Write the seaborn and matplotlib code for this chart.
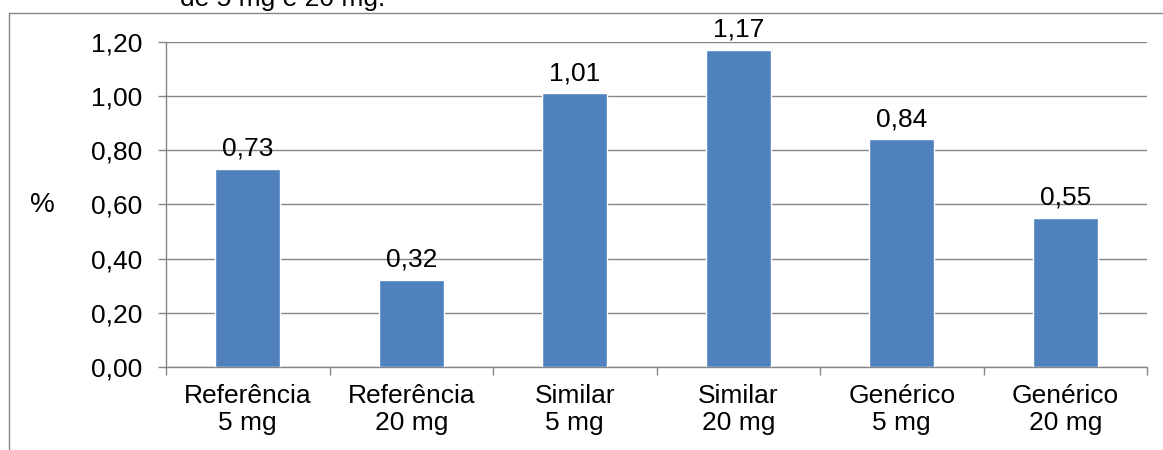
import matplotlib
matplotlib.use("Agg")
import matplotlib.pyplot as plt
from matplotlib.lines import Line2D
from matplotlib.ticker import FuncFormatter, FixedLocator
import seaborn as sns
import pandas as pd

# data
categories = ["Referência\n5 mg", "Referência\n20 mg", "Similar\n5 mg",
              "Similar\n20 mg", "Genérico\n5 mg", "Genérico\n20 mg"]
values = [0.73, 0.32, 1.01, 1.17, 0.84, 0.55]
y_ticks = [0.0, 0.2, 0.4, 0.6, 0.8, 1.0, 1.2]

bar_color = "#4F81BD"
grid_color = "#868686"

sns.set_style("white")
plt.rcParams["font.family"] = ["Liberation Sans", "DejaVu Sans"]
plt.rcParams["text.color"] = "black"
plt.rcParams["xtick.labelcolor"] = "black"
plt.rcParams["ytick.labelcolor"] = "black"

df = pd.DataFrame({"produto": categories, "valor": values})

fig = plt.figure(figsize=(11.63, 4.5), dpi=100)
ax = fig.add_axes([166 / 1163, 83 / 450, 981 / 1163, 325 / 450])

sns.barplot(data=df, x="produto", y="valor", color=bar_color, width=0.4,
            saturation=1, ax=ax, zorder=3)

ax.set_ylim(0, 1.2)
ax.set_xlim(-0.5, len(categories) - 0.5)
ax.yaxis.set_major_locator(FixedLocator(y_ticks))
ax.yaxis.set_major_formatter(FuncFormatter(lambda v, p: f"{v:.2f}".replace(".", ",")))
ax.grid(axis="y", color=grid_color, linewidth=1.0, zorder=0)
ax.set_axisbelow(True)

# category boundaries get the tick marks, like Excel
ax.xaxis.set_minor_locator(FixedLocator([i - 0.5 for i in range(len(categories) + 1)]))
ax.tick_params(axis="x", which="major", length=0, pad=12, labelsize=19,
               labelcolor="black")
ax.tick_params(axis="x", which="minor", length=6, width=1.0, color=grid_color,
               direction="out", bottom=True)
ax.tick_params(axis="y", which="major", length=6, width=1.0, color=grid_color,
               direction="out", left=True, pad=11, labelsize=19, labelcolor="black")

for s in ["top", "right"]:
    ax.spines[s].set_visible(False)
for s in ["left", "bottom"]:
    ax.spines[s].set_color(grid_color)
    ax.spines[s].set_linewidth(1.0)

ax.set_xlabel("")
ax.set_ylabel("")
for lbl in ax.get_xticklabels():
    lbl.set_linespacing(1.15)

ax.bar_label(ax.containers[0], labels=[f"{v:.2f}".replace(".", ",") for v in values],
             padding=6, fontsize=19, color="black")

fig.text(42 / 1163, 1 - 205 / 450, "%", fontsize=20, ha="center", va="center",
         color="black")

# outer chart frame and the caption above it, cut by the top edge as in the source
fig.add_artist(Line2D([9 / 1163, 1.0], [1 - 13 / 450, 1 - 13 / 450],
                      color=grid_color, linewidth=1.0, transform=fig.transFigure))
fig.add_artist(Line2D([9 / 1163, 9 / 1163], [0, 1 - 13 / 450],
                      color=grid_color, linewidth=1.0, transform=fig.transFigure))
fig.text(180 / 1163, 1 - 6 / 450, "de 5 mg e 20 mg.", fontsize=19, ha="left",
         va="baseline", color="black")

fig.savefig("out.png", dpi=100)
